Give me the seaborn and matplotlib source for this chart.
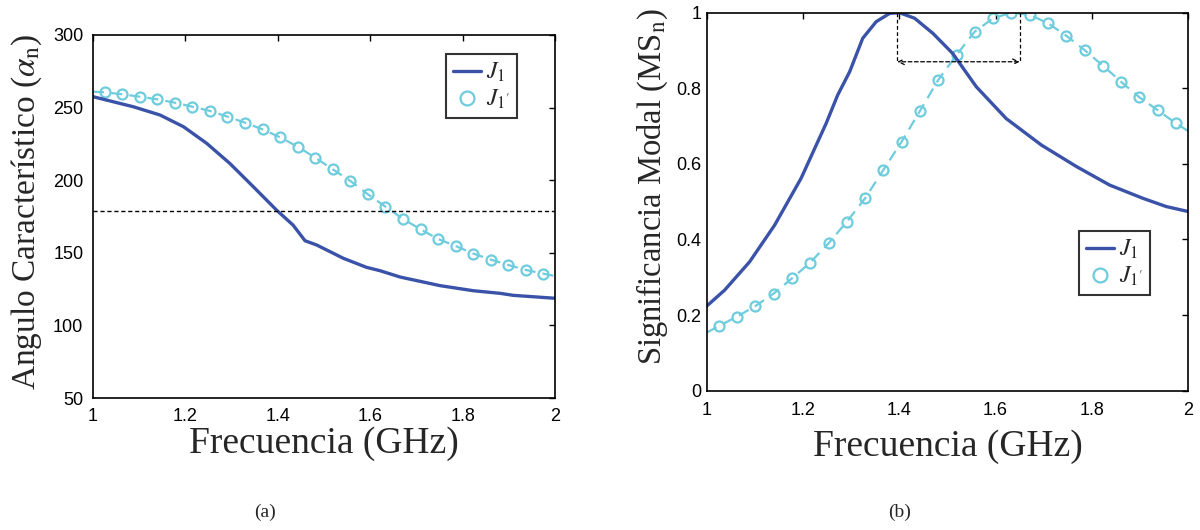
import matplotlib
matplotlib.use("Agg")
import matplotlib.pyplot as plt
from matplotlib.lines import Line2D
import seaborn as sns
import pandas as pd

# ---------------- data ----------------
# (a) characteristic angle
left_j1_f = [1.0, 1.087, 1.145, 1.196, 1.246, 1.296, 1.347, 1.397, 1.433, 1.459, 1.484,
             1.542, 1.592, 1.621, 1.665, 1.722, 1.751, 1.823, 1.881, 1.910, 2.0]
left_j1 = [257.5, 250.6, 244.9, 236.8, 225.4, 211.6, 195.5, 179.5, 169.1, 158.3, 155.4,
           146.2, 140.0, 137.7, 133.3, 129.4, 127.4, 123.9, 122.1, 120.7, 118.7]

mk_f = [1.0, 1.025, 1.063, 1.101, 1.139, 1.177, 1.215, 1.253, 1.291, 1.329, 1.367, 1.405,
        1.443, 1.481, 1.519, 1.557, 1.595, 1.633, 1.671, 1.709, 1.747, 1.785, 1.823, 1.861,
        1.899, 1.937, 1.975, 2.0]
left_j1p = [261.0, 260.5, 259.2, 257.5, 255.7, 253.4, 250.6, 247.7, 243.8, 239.6, 235.0,
            229.5, 223.1, 215.5, 207.5, 199.5, 190.3, 181.8, 173.3, 166.2, 159.5, 154.7,
            149.5, 145.3, 141.6, 138.2, 135.6, 134.0]
ref_angle = 179.0

# (b) modal significance
right_j1_f = [1.0, 1.037, 1.089, 1.141, 1.196, 1.248, 1.272, 1.297, 1.324, 1.352, 1.380,
              1.40, 1.432, 1.470, 1.511, 1.560, 1.622, 1.695, 1.768, 1.837, 1.906, 1.955, 2.0]
right_j1 = [0.224, 0.266, 0.341, 0.438, 0.562, 0.707, 0.782, 0.844, 0.932, 0.976, 0.998,
            1.0, 0.985, 0.945, 0.892, 0.804, 0.720, 0.650, 0.593, 0.544, 0.509, 0.487, 0.474]
right_j1p = [0.154, 0.171, 0.196, 0.224, 0.257, 0.297, 0.339, 0.390, 0.447, 0.509, 0.584,
             0.659, 0.740, 0.822, 0.888, 0.950, 0.985, 1.0, 0.994, 0.972, 0.939, 0.901,
             0.860, 0.817, 0.776, 0.742, 0.707, 0.687]
peak_f = [1.396, 1.650]
bw_level = 0.870

x_ticks = [1, 1.2, 1.4, 1.6, 1.8, 2]
x_labels = ["1", "1.2", "1.4", "1.6", "1.8", "2"]
left_yticks = [50, 100, 150, 200, 250, 300]
right_yticks = [0, 0.2, 0.4, 0.6, 0.8, 1]
right_ylabels = ["0", "0.2", "0.4", "0.6", "0.8", "1"]
legend_labels = [r"$\mathit{J}_{\mathit{1}}$", r"$\mathit{J}_{\mathit{1}'}$"]

# ---------------- style ----------------
sns.set_style("white")
plt.rcParams["font.family"] = ["Liberation Sans", "DejaVu Sans"]
plt.rcParams["mathtext.fontset"] = "stix"

BLUE = "#3A52A8"
CYAN = "#6ECCDD"
serif = ["Liberation Serif", "DejaVu Serif"]

fig = plt.figure(figsize=(12, 5.3), dpi=100)
axL = fig.add_axes([0.0775, 0.249, 0.385, 0.685])
axR = fig.add_axes([0.589, 0.2628, 0.401, 0.7134])

dfL1 = pd.DataFrame({"f": left_j1_f, "v": left_j1})
dfL2 = pd.DataFrame({"f": mk_f, "v": left_j1p})
dfR1 = pd.DataFrame({"f": right_j1_f, "v": right_j1})
dfR2 = pd.DataFrame({"f": mk_f, "v": right_j1p})

mevery = list(range(1, len(mk_f) - 1))

for ax, d1, d2 in [(axL, dfL1, dfL2), (axR, dfR1, dfR2)]:
    sns.lineplot(data=d2, x="f", y="v", ax=ax, color=CYAN, lw=1.6, marker="o",
                 markersize=7.2, markerfacecolor="none", markeredgecolor=CYAN,
                 markeredgewidth=1.6, markevery=mevery, dashes=(5, 3.2), sort=False,
                 estimator=None)
    sns.lineplot(data=d1, x="f", y="v", ax=ax, color=BLUE, lw=2.4, sort=False,
                 estimator=None)
    ax.set_xlim(1, 2)
    ax.set_xticks(x_ticks)
    ax.set_xticklabels(x_labels)
    ax.tick_params(direction="in", top=True, right=True, length=4, width=1,
                   labelsize=13, colors="black")
    for s in ax.spines.values():
        s.set_color("black")
        s.set_linewidth(1.2)
    ax.set_xlabel("Frecuencia (GHz)", family=serif, fontsize=27)
    ax.xaxis.label.set_va("center")

# left specifics
axL.set_ylim(50, 300)
axL.set_yticks(left_yticks)
axL.set_yticklabels([str(v) for v in left_yticks])
axL.tick_params(axis="x", pad=7)
axL.tick_params(axis="y", pad=7)
axL.axhline(ref_angle, color="black", lw=1, ls=(0, (3, 2)))
axL.set_ylabel(r"Angulo Característico ($\alpha_\mathrm{n}$)", family=serif,
               fontsize=24)
axL.yaxis.label.set_va("center")
axL.xaxis.set_label_coords(0.5, -0.125)
axL.yaxis.set_label_coords(-0.143, 0.512)

# right specifics
axR.set_ylim(0, 1)
axR.set_yticks(right_yticks)
axR.set_yticklabels(right_ylabels)
axR.tick_params(axis="x", pad=8)
axR.tick_params(axis="y", pad=4)
axR.set_ylabel(r"Significancia Modal (MS$_\mathrm{n}$)", family=serif, fontsize=23.5)
axR.yaxis.label.set_va("center")
axR.xaxis.set_label_coords(0.5, -0.148)
axR.yaxis.set_label_coords(-0.113, 0.54)
for pf in peak_f:
    axR.plot([pf, pf], [1.0, bw_level], color="black", lw=0.9, ls=(0, (3, 2)))
axR.annotate("", xy=(peak_f[0], bw_level), xytext=(peak_f[1], bw_level),
             arrowprops=dict(arrowstyle="<->", color="black", lw=0.9,
                             linestyle=(0, (3, 2)), shrinkA=0, shrinkB=0))

# legends
handles = [Line2D([0], [0], color=BLUE, lw=2.4),
           Line2D([0], [0], color=CYAN, lw=0, marker="o", markersize=10,
                  markerfacecolor="none", markeredgewidth=1.6)]
for ax, anchor in [(axL, (0.764, 0.948)), (axR, (0.773, 0.4225))]:
    leg = ax.legend(handles, legend_labels, loc="upper left", bbox_to_anchor=anchor,
                    fontsize=17, frameon=True, fancybox=False, handlelength=1.2,
                    handletextpad=0.2, borderpad=0.3, labelspacing=0.15,
                    borderaxespad=0)
    leg.get_frame().set_edgecolor("black")
    leg.get_frame().set_linewidth(1.5)

fig.text(0.2208, 0.034, "(a)", family=serif, fontsize=14, ha="center", va="center")
fig.text(0.750, 0.034, "(b)", family=serif, fontsize=14, ha="center", va="center")

fig.savefig("out.png", dpi=100)
